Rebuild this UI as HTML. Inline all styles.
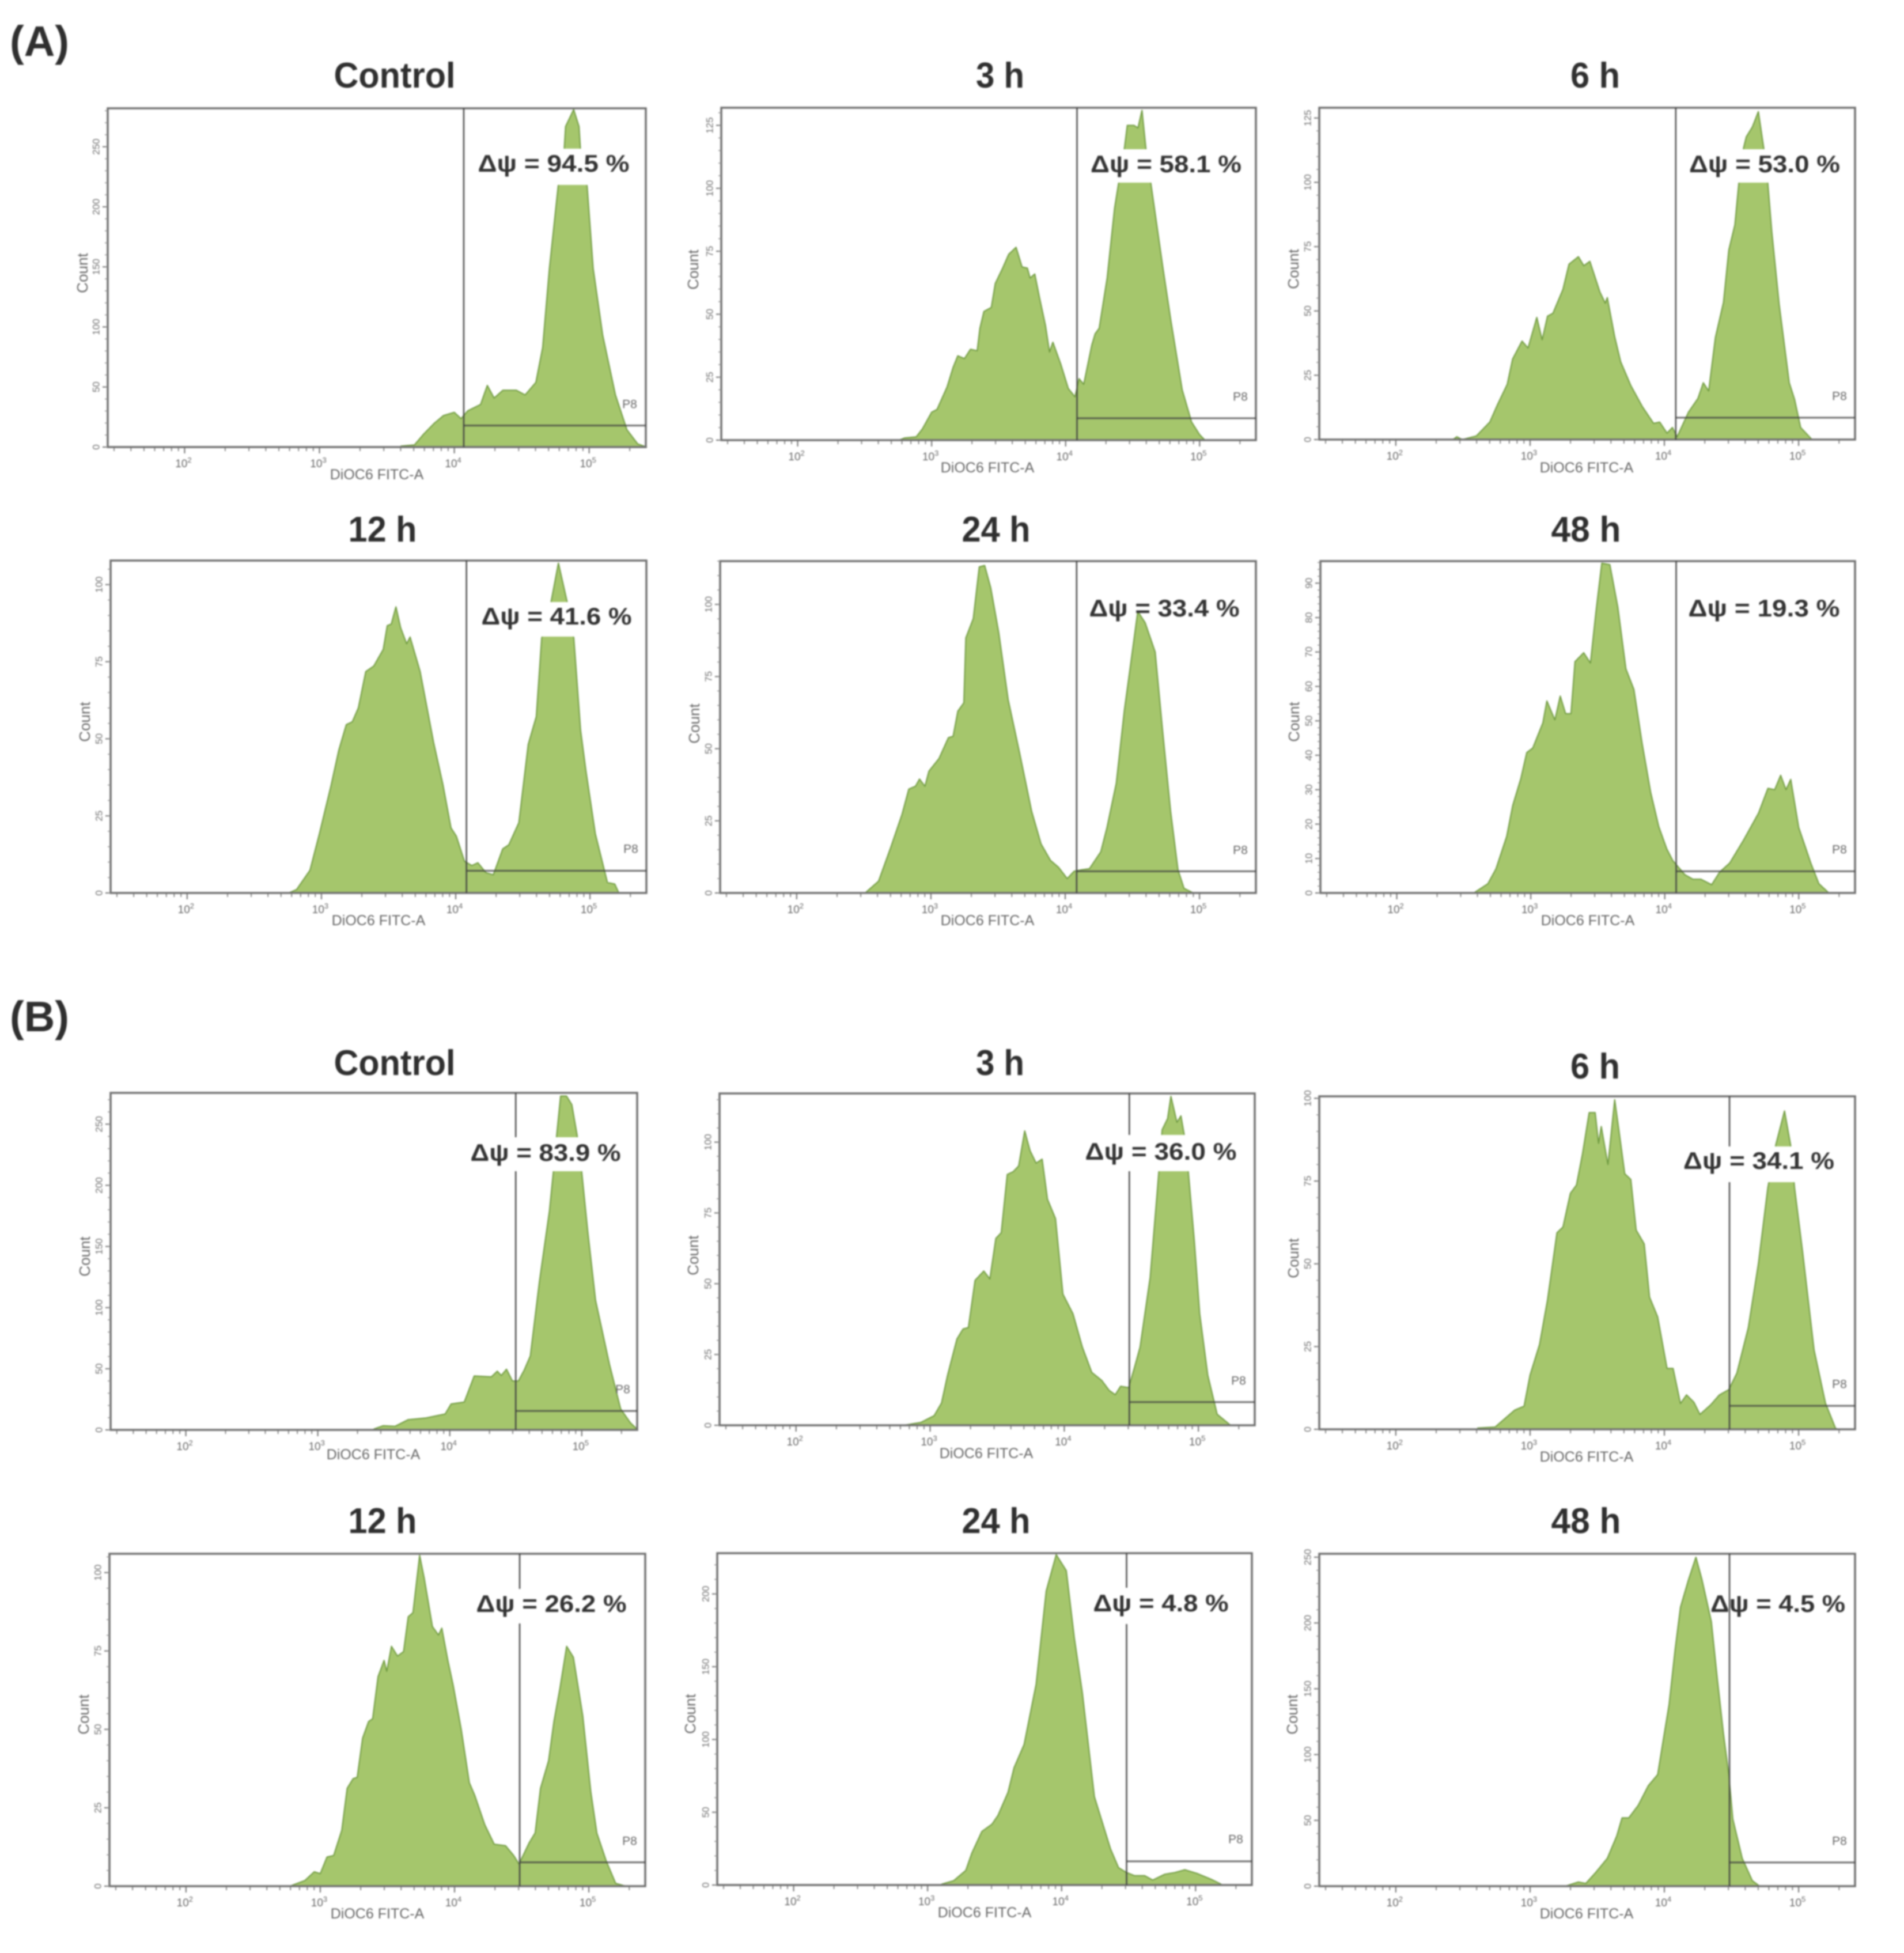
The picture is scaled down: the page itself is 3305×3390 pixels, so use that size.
<!DOCTYPE html>
<html lang="en">
<head>
<meta charset="utf-8">
<title>DiOC6 flow cytometry histograms</title>
<style>
html,body{margin:0;padding:0;background:#fff;width:3305px;height:3390px;overflow:hidden}
svg{display:block;filter:blur(1.2px)}
text{font-family:"Liberation Sans",sans-serif}
.title{font-size:62px;font-weight:bold;fill:#2f2f2f;text-anchor:middle}
.psi{font-size:42px;font-weight:bold;fill:#333;text-anchor:middle}
.panel-letter{font-size:74px;font-weight:bold;fill:#2f2f2f}
.count{font-size:26px;fill:#666;text-anchor:middle;dominant-baseline:central}
.xtitle{font-size:25px;fill:#666;text-anchor:middle}
.p8{font-size:21px;fill:#666;text-anchor:middle;dominant-baseline:central}
</style>
</head>
<body>
<svg id="figure" xmlns="http://www.w3.org/2000/svg" width="3305" height="3390" viewBox="0 0 3305 3390">
<rect x="0" y="0" width="3305" height="3390" fill="#fff"/>
<text class="panel-letter" x="17" y="97" textLength="103" lengthAdjust="spacingAndGlyphs">(A)</text>
<text class="panel-letter" x="17" y="1790" textLength="103" lengthAdjust="spacingAndGlyphs">(B)</text>

<g><g id="marks-0"></g>
<rect x="826" y="258" width="271" height="63" fill="#fff"/>
<text class="title" x="685" y="152" textLength="211" lengthAdjust="spacingAndGlyphs">Control</text>
<text class="psi" x="961" y="298" textLength="263" lengthAdjust="spacingAndGlyphs">Δψ = 94.5 %</text>
<text class="count" x="143" y="474" transform="rotate(-90 143 474)">Count</text>
<text class="xtitle" x="654" y="832">DiOC6 FITC-A</text>
<text class="p8" x="1093" y="702">P8</text></g>

<g><g id="marks-1"></g>
<rect x="1889" y="259" width="270" height="58" fill="#fff"/>
<text class="title" x="1736" y="152" textLength="84" lengthAdjust="spacingAndGlyphs">3 h</text>
<text class="psi" x="2024" y="299" textLength="262" lengthAdjust="spacingAndGlyphs">Δψ = 58.1 %</text>
<text class="count" x="1203" y="468" transform="rotate(-90 1203 468)">Count</text>
<text class="xtitle" x="1714" y="820">DiOC6 FITC-A</text>
<text class="p8" x="2153" y="689">P8</text></g>

<g><g id="marks-2"></g>
<rect x="2928" y="259" width="270" height="58" fill="#fff"/>
<text class="title" x="2769" y="152" textLength="86" lengthAdjust="spacingAndGlyphs">6 h</text>
<text class="psi" x="3063" y="299" textLength="262" lengthAdjust="spacingAndGlyphs">Δψ = 53.0 %</text>
<text class="count" x="2245" y="467" transform="rotate(-90 2245 467)">Count</text>
<text class="xtitle" x="2754" y="820">DiOC6 FITC-A</text>
<text class="p8" x="3193" y="688">P8</text></g>

<g><g id="marks-3"></g>
<rect x="831" y="1045" width="269" height="60" fill="#fff"/>
<text class="title" x="664" y="940" textLength="119" lengthAdjust="spacingAndGlyphs">12 h</text>
<text class="psi" x="966" y="1084" textLength="261" lengthAdjust="spacingAndGlyphs">Δψ = 41.6 %</text>
<text class="count" x="147" y="1253" transform="rotate(-90 147 1253)">Count</text>
<text class="xtitle" x="657" y="1606">DiOC6 FITC-A</text>
<text class="p8" x="1095" y="1474">P8</text></g>

<g><g id="marks-4"></g>
<text class="title" x="1729" y="940" textLength="119" lengthAdjust="spacingAndGlyphs">24 h</text>
<text class="psi" x="2021" y="1070" textLength="261" lengthAdjust="spacingAndGlyphs">Δψ = 33.4 %</text>
<text class="count" x="1205" y="1256" transform="rotate(-90 1205 1256)">Count</text>
<text class="xtitle" x="1714" y="1606">DiOC6 FITC-A</text>
<text class="p8" x="2153" y="1476">P8</text></g>

<g><g id="marks-5"></g>
<text class="title" x="2753" y="940" textLength="121" lengthAdjust="spacingAndGlyphs">48 h</text>
<text class="psi" x="3062" y="1070" textLength="263" lengthAdjust="spacingAndGlyphs">Δψ = 19.3 %</text>
<text class="count" x="2246" y="1253" transform="rotate(-90 2246 1253)">Count</text>
<text class="xtitle" x="2756" y="1606">DiOC6 FITC-A</text>
<text class="p8" x="3193" y="1475">P8</text></g>

<g><g id="marks-6"></g>
<rect x="813" y="1974" width="269" height="59" fill="#fff"/>
<text class="title" x="685" y="1866" textLength="211" lengthAdjust="spacingAndGlyphs">Control</text>
<text class="psi" x="947" y="2015" textLength="261" lengthAdjust="spacingAndGlyphs">Δψ = 83.9 %</text>
<text class="count" x="147" y="2181" transform="rotate(-90 147 2181)">Count</text>
<text class="xtitle" x="648" y="2533">DiOC6 FITC-A</text>
<text class="p8" x="1081" y="2412">P8</text></g>

<g><g id="marks-7"></g>
<rect x="1879" y="1970" width="271" height="63" fill="#fff"/>
<text class="title" x="1736" y="1866" textLength="84" lengthAdjust="spacingAndGlyphs">3 h</text>
<text class="psi" x="2015" y="2013" textLength="263" lengthAdjust="spacingAndGlyphs">Δψ = 36.0 %</text>
<text class="count" x="1203" y="2179" transform="rotate(-90 1203 2179)">Count</text>
<text class="xtitle" x="1712" y="2531">DiOC6 FITC-A</text>
<text class="p8" x="2150" y="2397">P8</text></g>

<g><g id="marks-8"></g>
<rect x="2918" y="1990" width="270" height="62" fill="#fff"/>
<text class="title" x="2769" y="1872" textLength="86" lengthAdjust="spacingAndGlyphs">6 h</text>
<text class="psi" x="3053" y="2029" textLength="262" lengthAdjust="spacingAndGlyphs">Δψ = 34.1 %</text>
<text class="count" x="2245" y="2184" transform="rotate(-90 2245 2184)">Count</text>
<text class="xtitle" x="2754" y="2537">DiOC6 FITC-A</text>
<text class="p8" x="3193" y="2403">P8</text></g>

<g><g id="marks-9"></g>
<rect x="823" y="2758" width="269" height="60" fill="#fff"/>
<text class="title" x="664" y="2661" textLength="119" lengthAdjust="spacingAndGlyphs">12 h</text>
<text class="psi" x="957" y="2798" textLength="261" lengthAdjust="spacingAndGlyphs">Δψ = 26.2 %</text>
<text class="count" x="145" y="2976" transform="rotate(-90 145 2976)">Count</text>
<text class="xtitle" x="655" y="3330">DiOC6 FITC-A</text>
<text class="p8" x="1093" y="3196">P8</text></g>

<g><g id="marks-10"></g>
<rect x="1893" y="2756" width="243" height="63" fill="#fff"/>
<text class="title" x="1729" y="2661" textLength="119" lengthAdjust="spacingAndGlyphs">24 h</text>
<text class="psi" x="2015" y="2797" textLength="235" lengthAdjust="spacingAndGlyphs">Δψ = 4.8 %</text>
<text class="count" x="1198" y="2975" transform="rotate(-90 1198 2975)">Count</text>
<text class="xtitle" x="1709" y="3328">DiOC6 FITC-A</text>
<text class="p8" x="2145" y="3193">P8</text></g>

<g><g id="marks-11"></g>
<text class="title" x="2753" y="2661" textLength="121" lengthAdjust="spacingAndGlyphs">48 h</text>
<text class="psi" x="3086" y="2798" textLength="234" lengthAdjust="spacingAndGlyphs">Δψ = 4.5 %</text>
<text class="count" x="2243" y="2976" transform="rotate(-90 2243 2976)">Count</text>
<text class="xtitle" x="2754" y="3330">DiOC6 FITC-A</text>
<text class="p8" x="3193" y="3196">P8</text></g>
</svg>

<script>
/* Histogram data: log10(DiOC6 FITC-A) and event count. */
const aControlLog=[3.605,3.705,3.77,3.85,3.92,4.0,4.05,4.1,4.195,4.245,4.295,4.36,4.46,4.525,4.605,4.655,4.705,4.77,4.815,4.825,4.885,4.925,4.935,4.985,5.03,5.1,5.195,5.28,5.36,5.425];
const aControlCount=[0.8,1.8,10.5,19.7,26.3,28.9,23.7,30.2,35.5,51.3,40.8,47.3,47.3,43.4,53.9,82.8,148.6,217,248.5,266.9,281,266.9,248.5,217,148.6,93.4,43.4,14.5,2.6,0];
const a3hLog=[2.755,2.8,2.885,2.93,3.0,3.04,3.115,3.16,3.195,3.245,3.29,3.34,3.36,3.39,3.445,3.475,3.53,3.575,3.63,3.675,3.715,3.735,3.77,3.805,3.85,3.88,3.905,3.965,4.02,4.07,4.1,4.135,4.195,4.22,4.25,4.31,4.365,4.395,4.44,4.46,4.51,4.54,4.57,4.6,4.645,4.725,4.785,4.87,4.94,5.0,5.04];
const a3hCount=[0,0.9,1.3,4.4,11.1,12.2,21.1,28.9,33.5,32.4,36.1,35.5,44.4,51.1,52.7,62.2,68.3,73.8,76.6,68.8,68.3,64.4,66,56.6,45.5,35,38.9,30,20.5,17.2,24.4,22.2,37.7,42.2,44.4,64.4,92,102,116.5,125,125,124,131,115.4,98.8,68.8,47.7,20,7.2,2.2,0];
const a6hLog=[2.425,2.455,2.495,2.6,2.7,2.755,2.83,2.87,2.94,2.985,3.05,3.09,3.13,3.17,3.245,3.29,3.36,3.4,3.445,3.52,3.56,3.575,3.63,3.675,3.75,3.835,3.92,3.965,4.02,4.06,4.095,4.18,4.25,4.29,4.33,4.38,4.44,4.48,4.525,4.555,4.59,4.61,4.655,4.7,4.74,4.77,4.8,4.855,4.93,4.97,5.015,5.1];
const a6hCount=[0,1.1,0,1.4,6.8,13.3,21.5,31.3,38.3,35.6,47.5,38.8,48,49.1,58.4,68.2,71.1,67.6,69.3,57.4,53,55.2,40,30.2,21,12.9,6.3,6.8,2.5,4.7,1.1,10.7,16,22.1,18.9,39.7,53.3,73.7,83.5,100,113.4,117.7,121.5,127.5,113.4,100,80.9,52.6,22.1,15.6,4.7,0];
const a12hLog=[2.755,2.815,2.915,2.985,3.07,3.13,3.185,3.23,3.275,3.33,3.39,3.46,3.49,3.52,3.555,3.59,3.635,3.66,3.735,3.835,3.905,3.965,4.005,4.065,4.12,4.165,4.225,4.28,4.35,4.395,4.47,4.54,4.6,4.64,4.71,4.765,4.83,4.88,4.93,4.97,5.04,5.13,5.185,5.215];
const a12hCount=[0,1.1,7.4,19.2,34.6,46.4,54.6,55.5,60,71.8,73.6,79,86.7,87.2,92.8,86,80.8,83,71.8,48.9,35.1,21.1,18.4,10.3,8.9,9.8,6.6,5.9,14.3,15.6,22.8,48.2,57.2,82.6,94.4,107,94.4,82.6,52.8,39.6,19.2,3.4,2.9,0];
const a24hLog=[2.51,2.61,2.7,2.785,2.835,2.885,2.915,2.955,2.985,3.06,3.13,3.165,3.2,3.245,3.26,3.315,3.36,3.4,3.445,3.505,3.575,3.66,3.75,3.82,3.89,3.95,4.015,4.065,4.12,4.18,4.265,4.31,4.38,4.44,4.48,4.54,4.595,4.67,4.725,4.785,4.84,4.885,4.955];
const a24hCount=[0,4.1,15.7,27.3,36,37,39.5,37,42.2,46.6,53.8,54.3,63,65.9,88.4,95.1,113,113.5,105.8,90.3,67,48.6,28.3,17,11.3,8.9,5,7.5,8,8.4,14.3,22.5,38,63.2,76.8,97.6,93.7,83.5,56.4,28.3,8,1.6,0];
const a48hLog=[2.575,2.68,2.74,2.82,2.865,2.925,2.97,3.015,3.09,3.12,3.18,3.22,3.26,3.3,3.33,3.395,3.445,3.485,3.53,3.59,3.65,3.71,3.77,3.83,3.895,3.955,4.015,4.06,4.15,4.21,4.27,4.35,4.41,4.485,4.59,4.7,4.77,4.82,4.865,4.905,4.94,5.0,5.09,5.15,5.225];
const a48hCount=[0,2.7,7,16.4,25.4,33.1,40.8,42.1,49.4,55.8,50.3,57.2,52.1,52.1,67.2,69.8,66.8,81.3,95.8,95.4,83,65.1,59.1,43.7,29.2,19.3,12.8,9.4,5.3,4,4,2.4,6.1,8.7,15.5,23.2,30.4,30,34.2,30,33,19,8.7,2.7,0];
const bControlLog=[3.425,3.495,3.585,3.685,3.82,3.965,4.01,4.11,4.185,4.315,4.36,4.39,4.43,4.475,4.52,4.565,4.61,4.68,4.755,4.785,4.81,4.84,4.885,4.925,4.965,5.0,5.045,5.105,5.21,5.295,5.37,5.425];
const bControlCount=[0.7,3.4,2.9,8.4,9.8,13,21.2,22.8,44.1,43.4,48,44.5,49.6,40,40,49.1,60.5,122,179,211,241,273,273,266,241,211,163,106,53.7,17.1,5.7,0];
const b3hLog=[2.8,2.93,3.03,3.085,3.13,3.2,3.245,3.285,3.335,3.4,3.445,3.49,3.53,3.575,3.62,3.66,3.705,3.745,3.79,3.835,3.875,3.935,3.99,4.065,4.135,4.205,4.28,4.335,4.38,4.42,4.48,4.525,4.565,4.64,4.695,4.73,4.77,4.795,4.84,4.87,4.895,4.925,4.97,5.01,5.07,5.14,5.24];
const b3hCount=[0,1,3.4,7.9,17.7,30.5,34,34.5,51.2,54.5,51.7,66,68,88.6,89.6,91.6,104,97,92.6,94,79.8,73,46.3,39.4,27.6,18.7,15.8,12.3,10.8,13.8,13.3,20.7,27.6,52.2,83.7,104.4,108.3,116.2,107,109.3,102.4,89.6,65,39.4,17.7,3.9,0];
const b6hLog=[2.61,2.74,2.825,2.885,2.955,3.0,3.07,3.13,3.2,3.245,3.3,3.345,3.39,3.44,3.485,3.51,3.53,3.58,3.63,3.66,3.705,3.75,3.79,3.85,3.89,3.95,4.02,4.065,4.12,4.165,4.22,4.265,4.345,4.41,4.48,4.54,4.625,4.7,4.77,4.83,4.895,4.94,4.97,5.03,5.115,5.2,5.275,5.3];
const b6hCount=[0.4,0.7,3.7,5.8,7,16.4,25.6,39.1,59.4,61.1,71.3,73.8,83.1,95.7,95.7,86.4,91.5,80,99.6,90.8,77.2,75.5,60.2,56,39.9,34,18.4,18.4,7.8,10.4,8.2,4.5,7.4,10.4,12,17,30.7,50,72.9,86,96.2,86,72.9,53.5,24,7.9,0.3,0];
const b12hLog=[2.785,2.885,2.955,3.0,3.05,3.1,3.16,3.2,3.245,3.275,3.315,3.36,3.39,3.43,3.475,3.495,3.53,3.575,3.62,3.655,3.69,3.74,3.775,3.835,3.88,3.905,3.95,3.99,4.05,4.11,4.15,4.225,4.295,4.38,4.44,4.48,4.555,4.6,4.64,4.7,4.74,4.785,4.835,4.885,4.955,5.015,5.06,5.13,5.2,5.275];
const b12hCount=[0.2,1.8,4.6,4,9.3,9.8,17.8,31.2,34.3,34.7,47.2,52.5,53.4,66.8,72,68.5,76.5,73.4,74.8,85.9,87.2,105.5,98,82.8,80.1,82.3,72,64,49.9,33,29,19.6,13.4,12.9,9.8,7.1,13.8,17,31.2,40,52.5,63.2,76.5,73,54.3,30,16.9,8,0.9,0];
const b24hLog=[3.105,3.195,3.285,3.33,3.405,3.48,3.525,3.6,3.645,3.72,3.81,3.885,3.96,4.035,4.095,4.155,4.245,4.365,4.425,4.485,4.545,4.62,4.68,4.77,4.845,4.92,5.01,5.115,5.19];
const b24hCount=[0.6,3,10,21.9,36.8,41.8,47.8,63.7,80.6,96.5,138,202,227,216,170,132,60.7,24.9,11.9,8.6,6.4,6.4,3.4,7.4,8.6,10.5,8,4,0.6];
const b48hLog=[3.275,3.36,3.415,3.49,3.575,3.645,3.685,3.735,3.805,3.88,3.95,3.99,4.035,4.08,4.12,4.18,4.235,4.28,4.35,4.395,4.44,4.48,4.51,4.58,4.655,4.71];
const b48hCount=[0.4,3.2,2.1,10.6,21.2,38.1,51.9,51.9,61.4,76.3,84.8,110,138,180,212,233,250,233,201,157,116,84.8,51,21.2,4.2,0];

/* Axis values */
const xLogMin=1.43;
const xLogMax=5.42;
const decadeTicks=[2,3,4,5];
const minorMultiples=[2,3,4,5,6,7,8,9];
const countAxisMax=[282,132,129,107.8,115,96.4,275.6,117.2,100.6,106,228,252.6];
const countTicks250=[0,50,100,150,200,250];
const countTicks200=[0,50,100,150,200];
const countTicks125=[0,25,50,75,100,125];
const countTicks100=[0,25,50,75,100];
const countTicks90=[0,10,20,30,40,50,60,70,80,90];
const gateLog=[4.07,4.085,4.085,4.08,4.085,4.085,4.5,4.485,4.485,4.485,4.485,4.485];
const gateCount=[17.9,8.7,8.5,7.2,7.5,6.3,15.5,8.2,7.1,7.6,16.3,18];

/* Panel frames on the page (layout only) */
const frames=[
 {l:187,r:1121,t:188,b:776},{l:1252,r:2180,t:187,b:764},{l:2290,r:3220,t:187,b:763},
 {l:192,r:1122,t:973,b:1550},{l:1250,r:2180,t:974,b:1550},{l:2292,r:3220,t:974,b:1550},
 {l:192,r:1106,t:1897,b:2482},{l:1249,r:2178,t:1898,b:2474},{l:2290,r:3220,t:1903,b:2481},
 {l:190,r:1120,t:2697,b:3274},{l:1245,r:2173,t:2696,b:3272},{l:2290,r:3220,t:2697,b:3274}
];
const seriesLog=[aControlLog,a3hLog,a6hLog,a12hLog,a24hLog,a48hLog,bControlLog,b3hLog,b6hLog,b12hLog,b24hLog,b48hLog];
const seriesCount=[aControlCount,a3hCount,a6hCount,a12hCount,a24hCount,a48hCount,bControlCount,b3hCount,b6hCount,b12hCount,b24hCount,b48hCount];
const seriesTicks=[countTicks250,countTicks125,countTicks125,countTicks100,countTicks100,countTicks90,countTicks250,countTicks100,countTicks100,countTicks100,countTicks200,countTicks250];

const NS='http://www.w3.org/2000/svg';
const AXIS='#707070';
function mk(parent,tag,attrs){
  const el=document.createElementNS(NS,tag);
  for(const k in attrs){el.setAttribute(k,attrs[k]);}
  parent.appendChild(el);
  return el;
}
function drawPanel(i){
  const g=document.getElementById('marks-'+i);
  const f=frames[i];
  const xPos=v=>f.l+(v-xLogMin)/(xLogMax-xLogMin)*(f.r-f.l);
  const yPos=c=>f.b-c/countAxisMax[i]*(f.b-f.t);

  const xs=seriesLog[i];
  const cs=seriesCount[i];
  let d='M'+xPos(xs[0]).toFixed(1)+' '+yPos(0).toFixed(1);
  xs.forEach((x,k)=>{d+=' L'+xPos(x).toFixed(1)+' '+yPos(cs[k]).toFixed(1);});
  d+=' L'+xPos(xs[xs.length-1]).toFixed(1)+' '+yPos(0).toFixed(1)+' Z';
  const hist=mk(g,'path',{d:d,fill:'#a5c66c',stroke:'#6f9a40','stroke-width':2,'stroke-linejoin':'round'});
  
  

  const frame=mk(g,'rect',{x:f.l,y:f.t,width:f.r-f.l,height:f.b-f.t,fill:'none',stroke:AXIS,'stroke-width':3.5});
  
  

  decadeTicks.forEach(dec=>{
    const px=xPos(dec);
    const major=mk(g,'line',{x1:px,x2:px,y1:f.b,y2:f.b+11,stroke:AXIS,'stroke-width':2});
    
    
    const lab=mk(g,'text',{x:px-2,y:f.b+35,'text-anchor':'middle','font-size':19,fill:'#666'});
    
    
    lab.textContent='10';
    const sup=mk(lab,'tspan',{dy:-8,'font-size':13});
    sup.textContent=String(dec);
  });
  [1,2,3,4,5].forEach(dec=>{
    minorMultiples.forEach(m=>{
      const v=dec+Math.log10(m);
      if(v<xLogMin||v>xLogMax){return;}
      const px=xPos(v);
      const minor=mk(g,'line',{x1:px,x2:px,y1:f.b,y2:f.b+7,stroke:AXIS,'stroke-width':1.6});
      
      
    });
  });

  const yt=seriesTicks[i];
  const step=yt[1]-yt[0];
  yt.forEach(v=>{
    const py=yPos(v);
    const major=mk(g,'line',{x1:f.l,x2:f.l-9,y1:py,y2:py,stroke:AXIS,'stroke-width':2});
    
    
    const lx=f.l-20;
    const lab=mk(g,'text',{x:lx,y:py,transform:'rotate(-90 '+lx+' '+py.toFixed(1)+')','text-anchor':'middle','dominant-baseline':'central','font-size':17,fill:'#707070'});
    
    
    lab.textContent=String(v);
  });
  for(let v=0;v<=countAxisMax[i];v+=step/5){
    const py=yPos(v);
    const minor=mk(g,'line',{x1:f.l,x2:f.l-5,y1:py,y2:py,stroke:'#8a8a8a','stroke-width':1.4});
    
    
  }

  const gx=xPos(gateLog[i]);
  const gy=yPos(gateCount[i]);
  const gateV=mk(g,'line',{x1:gx,x2:gx,y1:f.t,y2:f.b,stroke:'#3f3f3f','stroke-width':2.6,'stroke-opacity':.9});
  
  
  const gateH=mk(g,'line',{x1:gx,x2:f.r,y1:gy,y2:gy,stroke:'#3f3f3f','stroke-width':3,'stroke-opacity':.75});
  
  
}
frames.forEach((f,i)=>drawPanel(i));
</script>
</body>
</html>
